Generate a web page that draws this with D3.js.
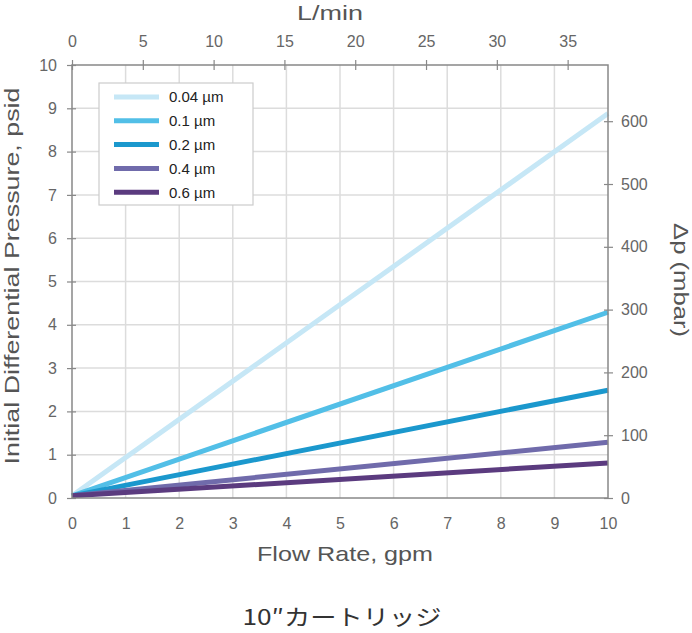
<!DOCTYPE html>
<html>
<head>
<meta charset="utf-8">
<script src="https://cdn.jsdelivr.net/npm/d3@7"></script>
<style>
  body { margin: 0; background: #fff; }
  svg { display: block; }
  .tick text { font-family: "Liberation Sans", Arial, sans-serif; fill: #666; font-size: 16px; }
  .ttl { font-family: "Liberation Sans", Arial, sans-serif; fill: #555; font-size: 21px; }
</style>
</head>
<body>
<div id="chart"></div>
<script>
/* Perda de carga inicial — cartucho 10" */

const FLOW_GPM = [0, 10];
const SERIES = ["0.04 µm", "0.1 µm", "0.2 µm", "0.4 µm", "0.6 µm"];
const PSI = [
  [0.05, 8.88],
  [0.05, 4.29],
  [0.05, 2.49],
  [0.05, 1.29],
  [0.05, 0.81],
];
const CORES = ["#c6e7f6", "#52bfe7", "#1b98cd", "#706bab", "#5b3b7f"];
const TICKS_GPM = d3.range(0, 11);
const TICKS_PSI = d3.range(0, 11);
const TICKS_LMIN = [0, 5, 10, 15, 20, 25, 30, 35];
const TICKS_MBAR = [0, 100, 200, 300, 400, 500, 600];
const GPM2LMIN = 3.785, PSI2MBAR = 68.95;

const W = 692, H = 633;
const M = { left: 72, right: 608, top: 65, bottom: 498 };

const svg = d3.select("#chart").append("svg").attr("width", W).attr("height", H);

const x = d3.scaleLinear().domain([0, 10]).range([M.left, M.right]);
const y = d3.scaleLinear().domain([0, 10]).range([M.bottom, M.top]);
const xL = d3.scaleLinear().domain([0, 10 * GPM2LMIN]).range([M.left, M.right]);
const yM = d3.scaleLinear().domain([0, 10 * PSI2MBAR]).range([M.bottom, M.top]);

// grade
const grid = svg.append("g").attr("stroke", "#dcdcdc").attr("stroke-width", 1.5);
grid.selectAll(".gv").data(TICKS_GPM.slice(1, -1)).join("line")
  .attr("x1", x).attr("x2", x).attr("y1", M.top).attr("y2", M.bottom);
grid.selectAll(".gh").data(TICKS_PSI.slice(1, -1)).join("line")
  .attr("y1", y).attr("y2", y).attr("x1", M.left).attr("x2", M.right);

// linhas
const line = d3.line().x((d, i) => x(FLOW_GPM[i])).y((d) => y(d));
svg.append("g").selectAll("path").data(PSI).join("path")
  .attr("d", line).attr("fill", "none")
  .attr("stroke", (d, i) => CORES[i]).attr("stroke-width", 5)
  .attr("stroke-linecap", "butt");

// moldura
svg.append("rect").attr("x", M.left).attr("y", M.top)
  .attr("width", M.right - M.left).attr("height", M.bottom - M.top)
  .attr("fill", "none").attr("stroke", "#888").attr("stroke-width", 1.5);

function estilo(g) {
  g.select(".domain").remove();
  g.selectAll(".tick line").attr("stroke", "#888").attr("stroke-width", 1.2);
  return g;
}

svg.append("g").attr("transform", `translate(0,${M.bottom})`)
  .call(d3.axisBottom(x).tickValues(TICKS_GPM).tickSize(0).tickPadding(20))
  .call(estilo);

svg.append("g").attr("transform", `translate(0,${M.top})`)
  .call(d3.axisTop(xL).tickValues(TICKS_LMIN).tickSizeInner(5).tickSizeOuter(0).tickPadding(13))
  .call(estilo)
  .selectAll(".tick line").attr("y2", 5).attr("y1", -5);

svg.append("g").attr("transform", `translate(${M.left},0)`)
  .call(d3.axisLeft(y).tickValues(TICKS_PSI).tickSizeInner(5).tickSizeOuter(0).tickPadding(10))
  .call(estilo)
  .selectAll(".tick line").attr("x1", 4).attr("x2", -5);

svg.append("g").attr("transform", `translate(${M.right},0)`)
  .call(d3.axisRight(yM).tickValues(TICKS_MBAR).tickSizeInner(5).tickSizeOuter(0).tickPadding(8))
  .call(estilo)
  .selectAll(".tick line").attr("x1", -4).attr("x2", 5);

// títulos (a fonte original é mais larga: esticamos com textLength)
const titulo = (t, len) => t.attr("class", "ttl").attr("text-anchor", "middle")
  .attr("textLength", len).attr("lengthAdjust", "spacingAndGlyphs");
titulo(svg.append("text").attr("x", 330).attr("y", 20), 66).text("L/min");
titulo(svg.append("text").attr("x", 345).attr("y", 561), 176).text("Flow Rate, gpm");
titulo(svg.append("text")
  .attr("transform", `translate(19,276) rotate(-90)`), 377)
  .text("Initial Differential Pressure, psid");
titulo(svg.append("text")
  .attr("transform", `translate(674,280) rotate(90)`), 114)
  .text("Δp (mbar)");
svg.append("text").attr("x", 342).attr("y", 625).attr("text-anchor", "middle")
  .attr("textLength", 199).attr("lengthAdjust", "spacingAndGlyphs")
  .style("font", "22px 'Noto Sans CJK JP', sans-serif").attr("fill", "#333")
  .text("10″カートリッジ");

// legenda
const leg = svg.append("g");
leg.append("rect").attr("x", 99).attr("y", 83).attr("width", 154).attr("height", 122)
  .attr("fill", "#fff").attr("stroke", "#ccc").attr("stroke-width", 1.2);
const item = leg.selectAll("g").data(SERIES).join("g")
  .attr("transform", (d, i) => `translate(0,${97 + i * 23.8})`);
item.append("line").attr("x1", 114).attr("x2", 159)
  .attr("stroke", (d, i) => CORES[i]).attr("stroke-width", 5);
item.append("text").attr("x", 169).attr("dy", "0.36em")
  .style("font", "15px 'Liberation Sans', Arial, sans-serif").attr("fill", "#222")
  .text((d) => d);
</script>
</body>
</html>
